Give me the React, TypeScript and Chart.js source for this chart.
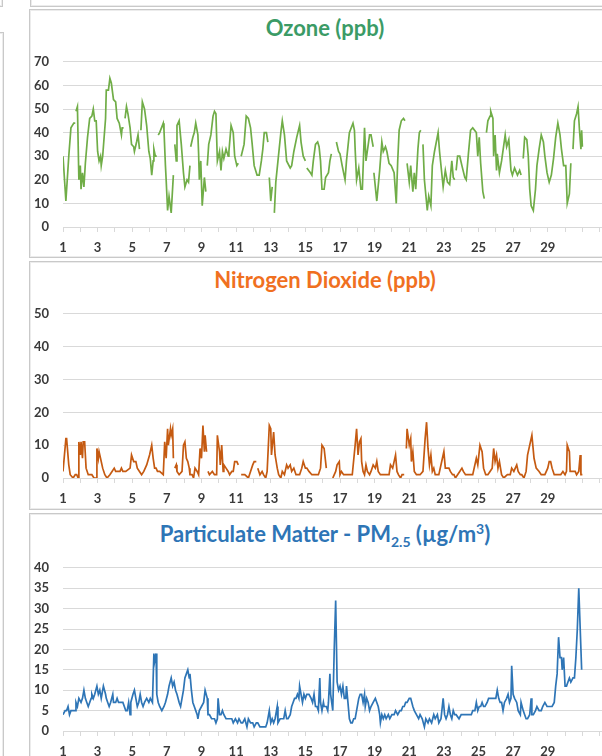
import React, { useEffect, useRef } from 'react';
import { Chart, registerables } from 'chart.js';

Chart.register(...registerables);

// ---- Data (hour of the month from day 1 00:00, value); null = missing data ----
const DAY_LABELS = [1, 3, 5, 7, 9, 11, 13, 15, 17, 19, 21, 23, 25, 27, 29];
const HOURS_PER_DAY = 24;
const X_MAX_HOURS = 768;

const OZONE_HOURS = [
  0, 4, 8, 11, 15, 17, 17.5, 18, 20, 22, 24, 25, 27, 29, 31, 34, 37, 40, 42, 44, 46, 48, 50, 52, 53, 55, 59, 60, 63, 65, 67, 70, 73, 75, 78, 81, 82, 84, 85,
  86, 88, 90, 93, 95, 98, 99, 102, 104, 106, 107, 108, 110, 113, 116, 119, 121, 123, 125, 126, 128, 130, 131, 132, 134, 139, 140, 142, 143, 145, 147, 150, 153, 154,
  155, 157, 158, 161, 164, 167, 169, 172, 174, 176, 176.5, 177, 180, 182, 184, 187, 188, 189, 191, 193, 196, 198, 199, 200, 202, 205, 208, 210, 212, 214, 217, 219, 221, 223, 226, 229, 230, 233, 236, 238, 241, 243, 245,
  247, 251, 254, 257, 260, 262, 265, 269, 272, 275, 277, 279, 282, 284, 285, 286, 288, 290, 291.5, 293, 295, 298, 302, 304, 307, 310, 315, 317, 320, 324, 328, 330, 333, 336, 337,
  338, 343, 345, 347, 350, 353, 355, 357, 359, 362, 364, 368, 370, 372, 375, 379, 382, 384, 387, 391, 393, 397, 402, 404, 405, 407, 410, 413, 415, 418, 420, 425, 427, 430, 430.5,
  431, 435, 439, 442, 444, 447, 449, 452, 455, 459, 462, 464, 466, 469, 472, 474, 475.5, 477, 480, 482, 485, 487, 489, 492, 494, 496, 497.5,
  499, 501, 505, 507, 510, 512, 515, 520, 522, 527, 530, 533, 536, 539, 541, 543, 544, 545, 547, 550, 553, 557, 559, 562, 565, 568, 573, 575, 577, 579, 582, 584, 585.5,
  587, 589, 592, 593, 596, 597, 599, 601, 602, 605, 608, 613, 615, 618, 621, 623, 626, 630, 633, 635, 636.5, 638, 640, 643, 645, 647, 649, 652, 655, 657, 660, 663, 666, 668, 671, 674, 677, 680, 683, 686, 689, 691, 694, 697, 699, 702, 704, 705.5,
  707, 709, 712, 714, 716, 718, 719, 720,
];
const OZONE_PPB = [
  30, 11, 30, 42, 44, 44, null, 49, 51, 20, 26, 16, 23, 17, 27, 38, 46, 47, 50, 45, 45, 32, 28, 30, 26, 30, 46, 58, 58, 63, 61, 54, 53, 46, 44, 39, 42, 42, null,
  46, 51, 48, 42, 35, 34, 32, 36, 39, 33, null, 41, 53, 50, 43, 32, 29, 22, 28, 33, 30, 30, null, 39, 40, 44, 41, 26, 20, 7, 13, 6, 22, null,
  35, 28, 43, 45, 35, 23, 17, 20, 19, 26, null, 34, 38, 40, 44, 39, 31, 20, 28, 9, 21, 15, null, 26, 35, 39, 47, 49, 48, 28, 32, 24, 32, 29, 33, 30, 32, 43, 40, 30, 26, 27, null,
  30, 35, 47, 46, 42, 36, 26, 22, 22, 28, 33, 40, 40, 36, null, 21, 11, 17, null, 6, 19, 28, 40, 45, 39, 28, 25, 26, 32, 38, 43, 36, 30, 28, null,
  25, 23, 22, 28, 35, 36, 34, 28, 16, 16, 21, 23, 28, 31, null, 36, 32, 31, 26, 20, 28, 40, 44, 41, 33, 20, 25, 16, 16, 42, 28, 39, 39, 34, null,
  23, 11, 24, 36, 32, 34, 32, 27, 26, 23, 10, 28, 41, 45, 46, 45, null, 27, 19, 26, 15, 23, 16, 33, 40, 41, null,
  35, 20, 7, 13, 9, 26, 32, 40, 32, 17, 24, 19, 18, 28, 21, 20, null, 24, 30, 30, 26, 21, 20, 31, 41, 42, 40, 30, 38, 27, 15, 12, null,
  40, 45, 47, 49, 46, 30, 39, 24, 31, 23, 28, 39, 34, 37, 24, 22, 25, 22, 24, 22, null, 29, 38, 37, 30, 16, 9, 7, 16, 26, 33, 39, 36, 30, 23, 19, 22, 29, 38, 44, 39, 33, 26, 26, 10, 14, 27, null,
  33, 45, 48, 51, 41, 33, 41, 34,
];

const NO2_HOURS = [
  0, 4, 5, 8, 10, 14, 17, 19, 21, 22, 24, 25, 27, 28, 30, 32, 35, 40, 43, 46, 47, 49, 50, 52, 55, 58, 61, 65, 68, 71, 73, 79, 81, 83, 87, 93, 95, 98, 101, 103, 106, 109, 112, 116, 120, 123, 125, 127, 129, 131, 134, 139, 141, 143, 145, 146, 149, 150, 152, 153, 154,
  155, 157, 158, 161, 165, 167, 169, 171, 173, 175, 176, 179, 181, 183, 186, 188, 190, 192, 194, 196, 197, 199, 200,
  201, 203, 207, 210, 213, 214, 217, 218, 220, 222, 223, 226, 229, 231, 234, 236, 238, 241, 243, 245,
  247, 252, 257, 260, 263, 265, 268, 269,
  270, 273, 276, 278, 281, 283, 286, 288, 289, 292, 294, 297, 299, 302, 304, 307, 310, 312, 315, 317, 320, 323, 328, 331, 333, 336, 338, 341, 345, 349, 354, 357, 359, 362, 365, 370,
  374, 378, 380, 383, 384, 386, 389, 392, 396, 401, 405, 407, 409, 411, 413, 414, 416, 418, 420, 422, 425, 427, 430, 433, 435, 437, 440, 446, 452, 454, 457, 459, 461, 463, 465, 468, 470, 473, 474.5,
  476, 477, 480, 482, 483, 485, 487, 490, 495, 499, 502, 504, 506, 508, 510, 512, 514, 516, 521, 526, 528, 530, 532, 535, 537, 540, 542, 544, 547, 550, 553, 555, 558, 563, 568, 573, 575, 578, 581, 583, 586, 589, 592, 595, 597, 599, 601, 603, 605, 608, 611, 616, 620, 622, 625, 627, 629, 631, 634, 636, 639, 642, 644, 647, 650, 653, 656, 660, 663, 668, 672, 674, 676, 678, 681, 686, 690, 693, 696, 698, 699, 702, 703, 707, 710, 712, 715, 717, 718, 720,
];
const NO2_PPB = [
  2, 12, 12, 4, 1, 0, 1, 1, 0, 11, 7, 11, 6, 11, 11, 3, 1, 1, 0, 0, 9, 6, 8, 6, 3, 1, 0, 1, 2, 3, 2, 2, 3, 2, 2, 3, 7, 5, 5, 3, 2, 1, 2, 4, 7, 10, 6, 3, 3, 2, 2, 1, 11, 6, 15, 10, 15, 13, 15, 6, null,
  3, 4, 2, 1, 2, 10, 11, 6, 5, 3, 1, 1, 0, 3, 2, 1, 9, 6, 16, 8, 13, 8, null,
  2, 1, 2, 1, 1, 13, 8, 4, 10, 2, 4, 3, 2, 1, 2, 2, 5, 5, 4, null,
  1, 1, 0, 2, 4, 5, 5, null,
  3, 1, 2, 1, 0, 2, 16, 15, 7, 14, 7, 3, 1, 0, 2, 1, 4, 3, 4, 2, 3, 1, 1, 3, 5, 3, 3, 2, 1, 1, 1, 3, 10, 9, 3, null,
  0, 2, 4, 5, 1, 2, 1, 1, 1, 1, 10, 15, 7, 11, 12, 5, 2, 1, 4, 2, 1, 2, 4, 3, 5, 2, 1, 1, 1, 4, 3, 5, 7, 2, 1, 0, 1, 1, null,
  9, 15, 10, 12, 5, 8, 2, 1, 1, 2, 12, 17, 9, 4, 7, 2, 3, 1, 1, 6, 8, 3, 3, 3, 2, 1, 1, 0, 1, 2, 3, 2, 1, 1, 1, 6, 4, 10, 8, 3, 1, 1, 2, 3, 9, 5, 7, 3, 5, 1, 0, 1, 1, 3, 2, 3, 4, 2, 1, 1, 0, 2, 7, 10, 13, 6, 3, 2, 1, 1, 3, 5, 5, 3, 1, 1, 1, 2, 1, 2, 10, 8, 2, 2, 2, 1, 2, 7, 1, 1,
];

const PM25_HOURS = [
  0, 3, 5, 7, 9, 11, 14, 17, 18, 20, 22, 25, 27, 29, 31, 33, 35, 37, 39, 40, 42, 44, 47, 49, 51, 53, 55, 56, 59, 60, 62, 64, 66, 69, 70, 73, 75, 77, 81, 83, 85, 87, 89, 91, 93, 94, 97, 99,
  101, 103, 105, 107, 109, 111, 113, 116, 119, 121, 124, 126, 127, 129, 130, 132, 134, 137, 140, 142, 145, 147, 150, 152, 154, 156, 158, 161, 163, 165, 167, 169, 171, 173, 175, 176, 178, 180, 182, 184, 186, 187, 189, 192, 195, 197,
  200, 201, 203, 206, 208, 210, 212, 214, 215, 217, 219, 221, 223, 226, 229, 234, 236, 239, 242, 244, 247, 249, 252, 255, 257, 260, 263, 265, 268, 270, 273, 276, 281, 283, 286, 288, 290, 292, 294, 297, 298,
  301, 303, 306, 308, 310, 312, 315, 317, 319, 321, 323, 325, 327, 328, 330, 332, 334, 336, 338, 341, 344, 346, 348, 350, 352, 354, 356, 357, 359, 361, 362, 365, 367, 368, 370, 371, 374, 376, 378, 380, 382, 384, 386, 388, 390, 392, 393, 395, 397, 399,
  401, 403, 405, 407, 410, 412, 414, 416, 418, 419, 421, 423, 425, 427, 430, 433, 435, 437, 439, 440, 442, 444, 446, 448, 451, 453, 456, 459, 461, 464, 467, 469, 471, 473, 475, 477, 480, 482, 485, 487, 490, 493, 495, 498,
  501, 503, 506, 508, 511, 514, 516, 519, 521, 524, 527, 529, 531, 533, 535, 537, 539, 541, 543, 545, 549, 552, 555, 561, 566, 568, 571, 573, 575, 577, 579, 581, 583, 585, 588, 590, 594, 597,
  600, 602, 604, 606, 608, 610, 612, 615, 617, 619, 621, 622, 624, 626, 629, 631, 634, 635, 638, 640, 642, 644, 647, 649, 650, 652, 655, 657, 660, 663, 665, 668, 671, 673, 676, 678, 681, 683, 685, 687, 689, 691, 692, 694, 696, 698,
  700, 702, 704, 707, 709, 711, 713, 715, 717, 719,
];
const PM25_UGM3 = [
  4, 5, 5, 6, 4, 5, 5, 5, 7, 6, 8, 7, 8, 10, 8, 7, 6, 7, 8, 9, 8, 9, 11, 9, 10, 8, 10, 11, 9, 8, 7, 6, 7, 9, 7, 7, 8, 7, 7, 7, 6, 5, 5, 7, 4, 7, 9, 10,
  8, 6, 7, 9, 7, 6, 7, 8, 7, 8, 7, 19, 17, 19, 9, 7, 6, 5, 6, 7, 9, 11, 13, 11, 12, 10, 9, 7, 6, 8, 10, 13, 14, 15, 13, 14, 10, 7, 6, 5, 4, 3, 5, 6, 7, 10,
  8, 4, 4, 3, 3, 3, 2, 3, 8, 4, 4, 5, 4, 3, 3, 3, 2, 3, 2, 3, 2, 2, 3, 1, 3, 2, 2, 1, 2, 2, 1, 1, 1, 2, 5, 2, 3, 2, 3, 6, 2,
  3, 3, 3, 5, 3, 3, 4, 6, 7, 8, 8, 9, 8, 11, 9, 7, 9, 8, 9, 9, 8, 7, 9, 6, 6, 5, 13, 7, 5, 7, 6, 6, 5, 7, 14, 9, 5, 20, 32, 12, 10, 11, 9, 11, 8, 8, 11, 7, 3, 2,
  2, 3, 3, 5, 8, 9, 9, 7, 9, 6, 8, 7, 5, 6, 7, 8, 7, 6, 4, 2, 4, 3, 4, 3, 4, 3, 4, 4, 5, 4, 5, 5, 6, 6, 7, 7, 8, 8, 6, 5, 4, 3, 4, 3,
  1, 3, 2, 3, 2, 4, 3, 4, 2, 3, 8, 4, 3, 4, 6, 4, 3, 5, 4, 4, 3, 4, 4, 4, 4, 5, 5, 7, 5, 6, 6, 7, 6, 6, 7, 8, 8, 8,
  8, 10, 8, 7, 7, 5, 7, 8, 9, 7, 8, 16, 9, 8, 7, 5, 4, 7, 5, 4, 3, 3, 4, 8, 4, 4, 5, 6, 5, 5, 6, 7, 6, 6, 6, 6, 7, 11, 14, 23, 18, 18, 15, 18, 11, 11,
  12, 13, 12, 13, 13, 18, 25, 35, 25, 15,
];

const OZONE_TICKS = [0, 10, 20, 30, 40, 50, 60, 70];
const NO2_TICKS = [0, 10, 20, 30, 40, 50];
const PM25_TICKS = [0, 5, 10, 15, 20, 25, 30, 35, 40];

// ---- Styling ----
const FONT = 'Lato, "Open Sans", "DejaVu Sans", sans-serif';
const AXIS_TEXT = '#3a3a3a';
const GRID = '#d9d9d9';
const PANEL_BORDER = '#c9c9c9';

type PanelProps = {
  hours: number[];
  values: (number | null)[];
  yTicks: number[];
  color: string;
  canvasTop: number;
  canvasHeight: number;
  padTop: number;
};

function LineCanvas({ hours, values, yTicks, color, canvasTop, canvasHeight, padTop }: PanelProps) {
  const ref = useRef<HTMLCanvasElement>(null);
  useEffect(() => {
    if (!ref.current) return;
    const points = hours.map((h, i) => ({ x: h, y: values[i] }));
    const chart = new Chart(ref.current, {
      type: 'line',
      data: {
        datasets: [
          {
            data: points as any,
            borderColor: color,
            backgroundColor: color,
            borderWidth: 1.7,
            pointRadius: 0,
            tension: 0,
            spanGaps: false,
            fill: false,
          },
        ],
      },
      options: {
        animation: false,
        responsive: false,
        maintainAspectRatio: false,
        events: [],
        layout: { padding: { top: padTop, left: 0, right: 0, bottom: 0 } },
        plugins: { legend: { display: false }, tooltip: { enabled: false }, title: { display: false } },
        scales: {
          x: {
            type: 'linear',
            min: 0,
            max: X_MAX_HOURS,
            afterFit: (s: any) => {
              s.height = 30;
            },
            border: { display: true, color: GRID, width: 1 },
            grid: { drawOnChartArea: false, drawTicks: true, tickLength: 5, color: GRID },
            ticks: {
              stepSize: HOURS_PER_DAY,
              autoSkip: false,
              maxRotation: 0,
              minRotation: 0,
              padding: 8,
              color: AXIS_TEXT,
              font: { family: FONT, size: 13, weight: 'bold' },
              callback: (v: any) => {
                const n = Number(v);
                if (n % HOURS_PER_DAY !== 0) return '';
                const day = n / HOURS_PER_DAY + 1;
                return DAY_LABELS.includes(day) ? String(day) : '';
              },
            },
          },
          y: {
            min: yTicks[0],
            max: yTicks[yTicks.length - 1],
            afterFit: (s: any) => {
              s.width = 32;
            },
            afterBuildTicks: (s: any) => {
              s.ticks = yTicks.map((v) => ({ value: v }));
            },
            border: { display: false },
            grid: { color: GRID, drawTicks: false, lineWidth: 1 },
            ticks: {
              padding: 14,
              color: AXIS_TEXT,
              font: { family: FONT, size: 13, weight: 'bold' },
            },
          },
        },
      },
    });
    return () => chart.destroy();
  }, []);
  return (
    <canvas
      ref={ref}
      width={594}
      height={canvasHeight}
      style={{ position: 'absolute', left: 31, top: canvasTop, width: 594, height: canvasHeight, display: 'block' }}
    />
  );
}

function Box({ left, top, width, height }: { left: number; top: number; width: number; height: number }) {
  return (
    <div
      style={{
        position: 'absolute',
        left,
        top,
        width,
        height,
        boxSizing: 'border-box',
        border: `1px solid ${PANEL_BORDER}`,
        boxShadow: 'inset 0 0 0 1px #ececec',
        background: '#fff',
      }}
    />
  );
}

function Title({ top, color, children }: { top: number; color: string; children: React.ReactNode }) {
  return (
    <div
      style={{
        position: 'absolute',
        left: 30,
        width: 590,
        top,
        textAlign: 'center',
        fontFamily: FONT,
        fontWeight: 700,
        fontSize: 22,
        lineHeight: '26px',
        color,
        whiteSpace: 'nowrap',
      }}
    >
      {children}
    </div>
  );
}

export default function App() {
  return (
    <div
      style={{
        position: 'absolute',
        left: 0,
        top: 0,
        width: 602,
        height: 756,
        overflow: 'hidden',
        background: '#fff',
      }}
    >
      {/* neighbouring panels of the dashboard */}
      <Box left={-60} top={-60} width={63} height={67} />
      <Box left={-60} top={32} width={64} height={820} />
      <Box left={30} top={-60} width={700} height={67} />

      {/* Ozone */}
      <Box left={29} top={9} width={700} height={249} />
      <Title top={15} color="#3b9b66">Ozone (ppb)</Title>
      <LineCanvas hours={OZONE_HOURS} values={OZONE_PPB} yTicks={OZONE_TICKS} color="#70ad47" canvasTop={40} canvasHeight={217} padTop={13} />

      {/* Nitrogen dioxide */}
      <Box left={29} top={261} width={700} height={249} />
      <Title top={267} color="#f0701f">Nitrogen Dioxide (ppb)</Title>
      <LineCanvas hours={NO2_HOURS} values={NO2_PPB} yTicks={NO2_TICKS} color="#c55a11" canvasTop={292} canvasHeight={216} padTop={14} />

      {/* PM2.5 */}
      <Box left={29} top={513} width={700} height={300} />
      <Title top={521} color="#2e75b6">
        Particulate Matter - PM<sub style={{ fontSize: 14, verticalAlign: -5, lineHeight: 0 }}>2.5</sub> (µg/m
        <sup style={{ fontSize: 14, verticalAlign: 8, lineHeight: 0 }}>3</sup>)
      </Title>
      <LineCanvas hours={PM25_HOURS} values={PM25_UGM3} yTicks={PM25_TICKS} color="#2e75b6" canvasTop={546} canvasHeight={215} padTop={13} />
    </div>
  );
}
